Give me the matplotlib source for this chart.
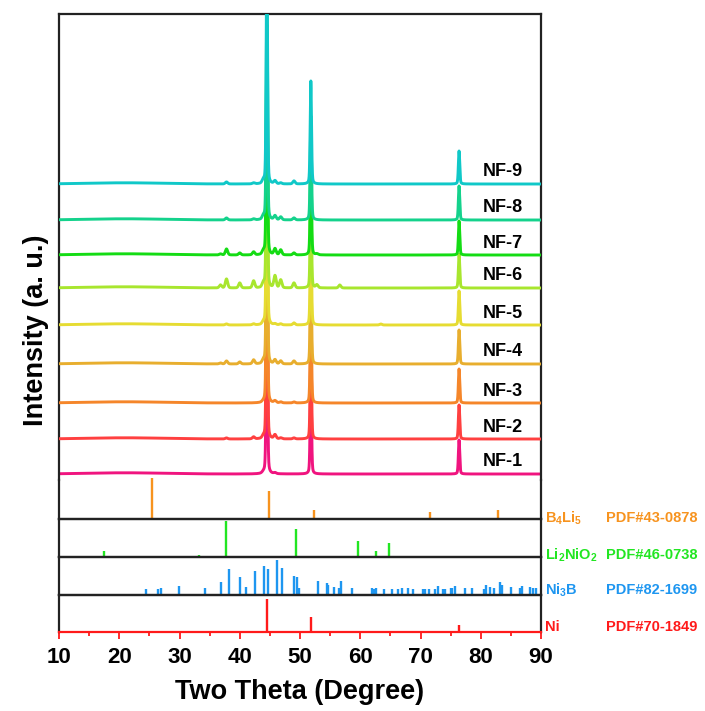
import numpy as np
import matplotlib
matplotlib.use('Agg')
import matplotlib.pyplot as plt
from matplotlib.ticker import MultipleLocator

plt.rcParams['font.family'] = ['Liberation Sans', 'DejaVu Sans']
plt.rcParams['font.weight'] = 'bold'
plt.rcParams['mathtext.fontset'] = 'custom'
plt.rcParams['mathtext.bf'] = 'Liberation Sans:bold'
plt.rcParams['mathtext.rm'] = 'Liberation Sans:bold'
plt.rcParams['mathtext.it'] = 'Liberation Sans:bold'

# ---------------- data ----------------
samples = ['NF-1', 'NF-2', 'NF-3', 'NF-4', 'NF-5', 'NF-6', 'NF-7', 'NF-8', 'NF-9']
sample_colors = ['#F0147F', '#FF4040', '#F5862A', '#E8AE2E', '#E6DC32',
                 '#A8E62E', '#14DC14', '#14D28C', '#10C8C8']
offsets = [6, 41, 77, 116, 155, 192, 225, 260, 296]

# main Ni reflections (2theta) and intensities per sample
main_pos = [44.5, 51.8, 76.4]
main_heights = [
    [230, 104, 34],
    [230, 104, 34],
    [230, 104, 34],
    [230, 104, 34],
    [230, 104, 34],
    [230, 104, 34],
    [230, 104, 34],
    [230, 104, 34],
    [230, 103, 33],
]
# minor reflections
minor_pos = [36.8, 37.8, 40.0, 42.3, 43.9, 45.85, 46.8, 49.0, 52.8, 56.6, 63.4]
minor_heights = [
    [0, 0, 0, 0, 1, 1, 0, 0, 0, 0, 0],
    [0, 1, 0, 2, 2, 4, 1, 1, 0, 0, 0],
    [0, 0, 0, 0, 1, 2, 1, 1, 0, 0, 0],
    [1, 3, 2, 4, 3, 4, 3, 3, 0, 0, 0],
    [0, 1, 0, 1, 2, 1, 1, 2, 0, 0, 1],
    [3, 9, 5, 7, 4, 12, 8, 5, 3, 3, 0],
    [1, 6, 2, 3, 3, 6, 5, 2, 1, 0, 0],
    [0, 2, 0, 1, 3, 4, 3, 2, 0, 0, 0],
    [0, 2, 0, 1, 3, 3, 1, 3, 0, 0, 0],
]
hump_heights = [1.2, 1.2, 1.2, 1.2, 1.2, 1.2, 1.2, 1.2, 1.2]

# reference cards
b4li5_pos = [25.4, 44.8, 52.4, 71.5, 82.9]
b4li5_int = [100, 68, 22, 17, 22]
li2nio2_pos = [17.5, 33.3, 37.8, 49.3, 59.6, 62.6, 64.7]
li2nio2_int = [17, 5, 100, 78, 44, 17, 39]
ni3b_pos = [24.4, 26.5, 26.9, 29.9, 34.2, 36.9, 38.2, 40.1, 41.1, 42.5, 44.1,
            44.7, 46.1, 47.0, 49.0, 49.5, 49.9, 53.0, 54.5, 54.6, 55.6, 56.5,
            56.8, 58.6, 61.9, 62.3, 62.6, 63.9, 65.3, 66.3, 66.9, 68.0, 68.7,
            70.4, 70.7, 71.4, 72.4, 72.9, 73.8, 74.1, 75.0, 75.3, 75.8, 77.4,
            78.5, 80.6, 80.9, 81.5, 82.2, 83.2, 83.5, 85.1, 86.5, 86.8, 88.2,
            88.6, 89.2]
ni3b_int = [18, 18, 21, 26, 19, 37, 75, 51, 24, 69, 82,
            73, 100, 78, 54, 50, 21, 41, 35, 28, 22, 20,
            41, 20, 19, 18, 21, 18, 18, 18, 21, 21, 18,
            18, 18, 18, 18, 26, 18, 18, 19, 20, 26, 20,
            20, 18, 28, 23, 20, 37, 28, 22, 20, 27, 23,
            20, 20]
ni_pos = [44.5, 51.8, 76.4]
ni_int = [100, 45, 21]

ref_names = [r'$\mathbf{B_4Li_5}$', r'$\mathbf{Li_2NiO_2}$', r'$\mathbf{Ni_3B}$', 'Ni']
ref_cards = ['PDF#43-0878', 'PDF#46-0738', 'PDF#82-1699', 'PDF#70-1849']
ref_colors = ['#F7931E', '#22E622', '#1E96F0', '#FF1A1A']

# ---------------- figure ----------------
W, H = 705, 711
fig = plt.figure(figsize=(W / 100, H / 100), dpi=100)

def frac(x0, y0, x1, y1):
    return [x0 / W, 1 - y1 / H, (x1 - x0) / W, (y1 - y0) / H]

xl, xr = 59, 541
ax_main = fig.add_axes(frac(xl, 14, xr, 480))
ax_b = fig.add_axes(frac(xl, 480, xr, 519))
ax_l = fig.add_axes(frac(xl, 519, xr, 557))
ax_n3 = fig.add_axes(frac(xl, 557, xr, 595))
ax_ni = fig.add_axes(frac(xl, 595, xr, 632))
axes = [ax_main, ax_b, ax_l, ax_n3, ax_ni]

x = np.linspace(10, 90, 8001)

def pv(x, p, h, fwhm, eta=0.3):
    g = np.exp(-4 * np.log(2) * ((x - p) / fwhm) ** 2)
    l = 1.0 / (1 + 4 * ((x - p) / fwhm) ** 2)
    return h * (eta * l + (1 - eta) * g)

for i, name in enumerate(samples):
    y = np.full_like(x, offsets[i], dtype=float)
    y += hump_heights[i] * np.exp(-((x - 21) / 9.0) ** 2)
    for p, h in zip(main_pos, main_heights[i]):
        y += pv(x, p, h, 0.26)
    for p, h in zip(minor_pos, minor_heights[i]):
        if h > 0:
            y += pv(x, p, h, 0.45, eta=0.2)
    ax_main.plot(x, y, color=sample_colors[i], lw=2.1, zorder=2 + i,
                 solid_joinstyle='round')
    ax_main.text(80.4, offsets[i] + 12, name, fontsize=13, fontweight='bold',
                 ha='left', va='center', color='black', zorder=20)

ax_main.set_ylim(0, 466)

stick_sets = [(ax_b, b4li5_pos, b4li5_int, 95),
              (ax_l, li2nio2_pos, li2nio2_int, 105),
              (ax_n3, ni3b_pos, ni3b_int, 108),
              (ax_ni, ni_pos, ni_int, 112)]
for k, (ax, pos, inten, top) in enumerate(stick_sets):
    ax.vlines(pos, 0, inten, color=ref_colors[k], lw=1.7, clip_on=False)
    ax.set_ylim(0, top)

for ax in axes:
    ax.set_xlim(10, 90)
    ax.set_yticks([])
    ax.set_facecolor('none')
    for s in ['left', 'right', 'top', 'bottom']:
        ax.spines[s].set_linewidth(1.6)
        ax.spines[s].set_color('#222222')
    if ax is not ax_ni:
        ax.set_xticks([])

ax_main.spines['bottom'].set_visible(False)
ax_b.spines['top'].set_visible(False)
ax_ni.spines['bottom'].set_color('#FF1A1A')

ax_ni.xaxis.set_major_locator(MultipleLocator(10))
ax_ni.xaxis.set_minor_locator(MultipleLocator(5))
ax_ni.tick_params(axis='x', which='major', direction='out', length=5, width=1.3,
                  color='#FF1A1A', labelsize=16, pad=6, labelcolor='black')
ax_ni.tick_params(axis='x', which='minor', direction='out', length=3, width=1.3,
                  color='#FF1A1A')
for lab in ax_ni.get_xticklabels():
    lab.set_fontweight('bold')

fig.text(300 / W, 1 - 692 / H, 'Two Theta (Degree)', fontsize=19.5,
         fontweight='bold', ha='center', va='center')
fig.text(36 / W, 1 - 330 / H, 'Intensity (a. u.)', fontsize=19.5,
         fontweight='bold', ha='center', va='center', rotation=90)

label_y = [518, 555, 590, 627]
for k in range(4):
    fig.text(545 / W, 1 - label_y[k] / H, ref_names[k], fontsize=10.5,
             fontweight='bold', color=ref_colors[k], ha='left', va='center')
    fig.text(606 / W, 1 - label_y[k] / H, ref_cards[k], fontsize=10.5,
             fontweight='bold', color=ref_colors[k], ha='left', va='center')

fig.savefig('out.png', dpi=100)
